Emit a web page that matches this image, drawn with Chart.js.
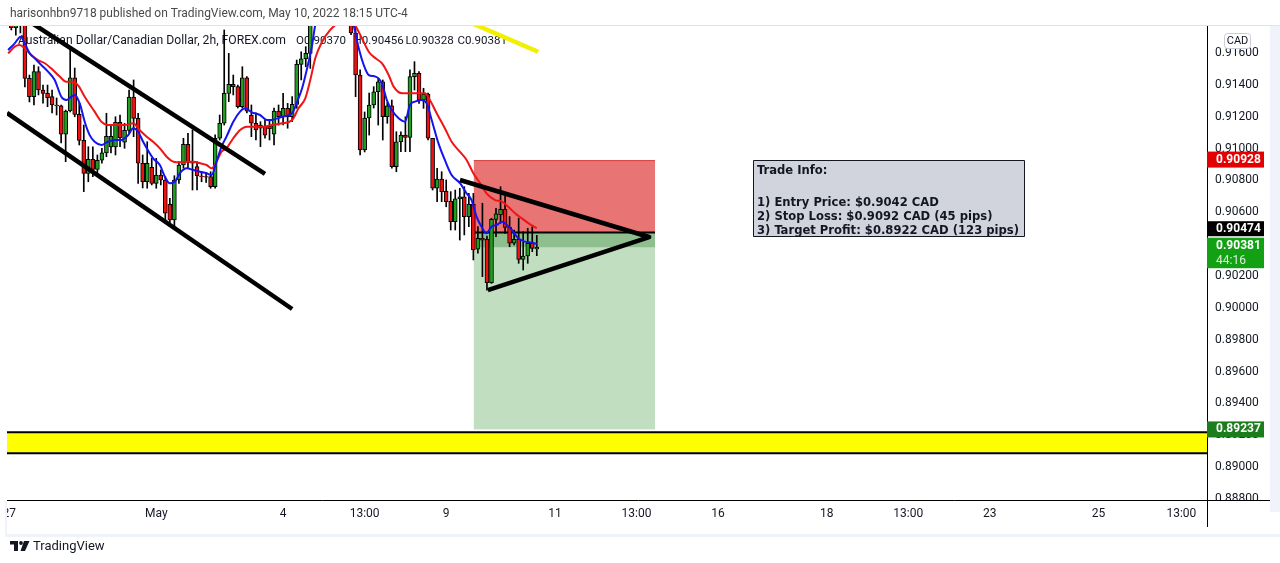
<!DOCTYPE html>
<html><head><meta charset="utf-8">
<script src="https://cdn.jsdelivr.net/npm/chart.js@4.4.1/dist/chart.umd.min.js"></script>
<style>html,body{margin:0;padding:0;background:#fff;overflow:hidden}</style>
</head><body>
<canvas id="c" width="1280" height="563"></canvas>
<script>
// ---------- DATA ----------
const openP  = [0.91780,0.91760,0.91790,0.91800,0.91441,0.91326,0.91483,0.91368,0.91347,0.91326,0.91274,0.91268,0.91090,0.91236,0.91445,0.91215,0.91052,0.90845,0.90933,0.90870,0.90927,0.90973,0.91010,0.91010,0.91165,0.91040,0.91115,0.91324,0.91190,0.90908,0.90792,0.90883,0.90782,0.90834,0.90803,0.90650,0.90552,0.90803,0.90897,0.91027,0.90918,0.90887,0.90828,0.90824,0.90824,0.90761,0.91065,0.91159,0.91347,0.91404,0.91389,0.91263,0.91445,0.91211,0.91159,0.91148,0.91142,0.91142,0.91090,0.91236,0.91200,0.91253,0.91200,0.91278,0.91529,0.91563,0.91598,0.91800,0.91900,0.91950,0.92000,0.91960,0.91900,0.91880,0.91850,0.91820,0.91726,0.91462,0.90992,0.91192,0.91274,0.91357,0.91420,0.91200,0.91268,0.90887,0.91043,0.91085,0.91071,0.91452,0.91473,0.91305,0.91343,0.91065,0.90751,0.90809,0.90734,0.90671,0.90541,0.90684,0.90698,0.90573,0.90652,0.90368,0.90437,0.90432,0.90158,0.90556,0.90583,0.90619,0.90506,0.90406,0.90431,0.90305,0.90326,0.90406,0.90370];
const highP  = [0.91830,0.91850,0.91870,0.91840,0.91462,0.91525,0.91514,0.91399,0.91399,0.91368,0.91318,0.91274,0.91242,0.91632,0.91506,0.91286,0.91148,0.91012,0.91012,0.90960,0.91002,0.91222,0.91148,0.91200,0.91211,0.91159,0.91368,0.91431,0.91222,0.90960,0.91043,0.90939,0.90939,0.90866,0.90824,0.90688,0.90830,0.90918,0.91065,0.91096,0.91117,0.90918,0.90855,0.90849,0.90855,0.91086,0.91211,0.91745,0.91598,0.91462,0.91399,0.91514,0.91452,0.91274,0.91224,0.91169,0.91180,0.91180,0.91255,0.91274,0.91347,0.91284,0.91326,0.91556,0.91608,0.91640,0.91850,0.91950,0.92000,0.92060,0.92080,0.92000,0.91960,0.91920,0.91880,0.91850,0.91780,0.91494,0.91230,0.91349,0.91389,0.91443,0.91431,0.91290,0.91305,0.91106,0.91106,0.91200,0.91494,0.91546,0.91483,0.91379,0.91349,0.91065,0.90876,0.90855,0.90803,0.90730,0.90740,0.90751,0.90761,0.90719,0.90719,0.90510,0.90657,0.90451,0.90563,0.90625,0.90761,0.90719,0.90573,0.90489,0.90563,0.90478,0.90500,0.90510,0.90456];
const lowP   = [0.91745,0.91713,0.91726,0.91387,0.91293,0.91274,0.91337,0.91286,0.91263,0.91224,0.91211,0.91035,0.90918,0.91230,0.91200,0.91023,0.90730,0.90792,0.90824,0.90834,0.90908,0.90949,0.90973,0.90960,0.91012,0.91002,0.91096,0.91075,0.90782,0.90753,0.90751,0.90772,0.90751,0.90772,0.90541,0.90520,0.90510,0.90782,0.90877,0.90877,0.90740,0.90740,0.90792,0.90788,0.90751,0.90751,0.91054,0.91148,0.91295,0.91337,0.91255,0.91255,0.91224,0.91075,0.91054,0.91012,0.91065,0.91054,0.91023,0.91148,0.91148,0.91128,0.91169,0.91253,0.91431,0.91514,0.91504,0.91790,0.91880,0.91900,0.91920,0.91880,0.91850,0.91830,0.91800,0.91715,0.91326,0.90960,0.90979,0.91085,0.91255,0.91148,0.91054,0.91159,0.90877,0.90855,0.90981,0.90981,0.90981,0.91368,0.91284,0.91253,0.91054,0.90740,0.90667,0.90667,0.90635,0.90489,0.90489,0.90426,0.90458,0.90510,0.90301,0.90343,0.90196,0.90112,0.90154,0.90447,0.90531,0.90468,0.90384,0.90395,0.90280,0.90238,0.90280,0.90353,0.90328];
const closeP = [0.91760,0.91790,0.91800,0.91441,0.91326,0.91483,0.91368,0.91347,0.91320,0.91274,0.91268,0.91090,0.91236,0.91445,0.91215,0.91052,0.90845,0.90933,0.90870,0.90927,0.90973,0.91077,0.91077,0.91165,0.91068,0.91115,0.91324,0.91190,0.90908,0.90792,0.90908,0.90782,0.90834,0.90803,0.90594,0.90552,0.90803,0.90897,0.91027,0.90914,0.90908,0.90830,0.90824,0.90820,0.90761,0.91065,0.91159,0.91347,0.91404,0.91389,0.91263,0.91445,0.91235,0.91159,0.91117,0.91129,0.91085,0.91123,0.91236,0.91200,0.91253,0.91200,0.91278,0.91529,0.91563,0.91598,0.91800,0.91900,0.91950,0.92000,0.91960,0.91900,0.91880,0.91850,0.91820,0.91726,0.91462,0.90992,0.91192,0.91274,0.91357,0.91420,0.91200,0.91268,0.90887,0.91043,0.91085,0.91071,0.91452,0.91473,0.91305,0.91343,0.91065,0.90751,0.90809,0.90730,0.90667,0.90541,0.90684,0.90698,0.90573,0.90652,0.90364,0.90437,0.90426,0.90158,0.90556,0.90590,0.90619,0.90506,0.90406,0.90431,0.90305,0.90326,0.90406,0.90374,0.90381];

const emaFastX = [-0.7,0.75,2.07,2.96,4.06,5.17,6.62,8.10,9.58,11.04,12.14,13.25,14.0,15.1,16.2,17.3,18.4,19.9,21.3,22.8,24.3,25.8,26.9,28.0,29.1,31.3,32.8,33.9,35.0,36.1,37.2,38.7,40.2,41.7,43.1,44.2,45.3,46.4,47.5,49.0,50.5,51.6,53.1,54.9,56.4,57.5,59.8,62.0,63.1,64.2,65.3,66.4,67.1,69,71,73,75,75.6,76.7,77.8,78.9,80.4,81.8,82.9,84.0,85.5,86.9,88.0,89.1,90.6,91.7,92.8,94.3,95.7,97.2,99.1,100.5,101.6,102.7,103.8,104.9,106.0,107.2,108.3,109.4,110.5,111.9,113.4,114.9,116.0];
const emaFastY = [0.91619,0.91661,0.91703,0.91661,0.91598,0.91567,0.91525,0.91483,0.91431,0.91326,0.91305,0.91326,0.91337,0.91284,0.91169,0.91085,0.91043,0.91023,0.91043,0.91054,0.91054,0.91085,0.91128,0.91106,0.91043,0.90939,0.90897,0.90824,0.90782,0.90792,0.90845,0.90876,0.90866,0.90855,0.90845,0.90834,0.90918,0.91012,0.91075,0.91169,0.91232,0.91253,0.91228,0.91211,0.91180,0.91180,0.91200,0.91222,0.91295,0.91379,0.91504,0.91650,0.91776,0.9190,0.9196,0.9194,0.9186,0.91776,0.91630,0.91525,0.91462,0.91452,0.91410,0.91305,0.91242,0.91190,0.91169,0.91274,0.91295,0.91305,0.91284,0.91180,0.91033,0.90929,0.90834,0.90782,0.90719,0.90677,0.90573,0.90510,0.90468,0.90510,0.90521,0.90541,0.90521,0.90489,0.90437,0.90416,0.90409,0.90401];
const emaSlowX = [-0.7,0.75,1.85,2.96,4.4,5.9,7.4,8.8,10.7,12.1,13.2,14.7,16.2,18.4,19.9,21.3,23.2,25.0,26.9,28.3,29.9,31.3,32.8,34.3,35.8,37.2,38.7,40.2,41.7,43.1,44.2,45.3,46.4,47.5,49.0,50.5,52.0,53.8,55.6,57.5,59.8,62.0,63.4,64.9,66.0,67.1,68.6,70.4,71.5,73,75,75.9,77.4,78.9,80.4,81.8,83.3,84.4,86.3,88.4,89.8,91.3,92.4,93.9,95.7,97.2,99.0,100.5,102.0,103.5,104.9,106.8,108.3,109.7,111.2,112.7,114.2,116.0];
const emaSlowY = [0.91598,0.91640,0.91650,0.91630,0.91588,0.91556,0.91536,0.91504,0.91452,0.91420,0.91420,0.91399,0.91326,0.91232,0.91169,0.91148,0.91148,0.91148,0.91159,0.91117,0.91075,0.91043,0.91002,0.90949,0.90918,0.90914,0.90918,0.90918,0.90908,0.90897,0.90876,0.90918,0.90981,0.91002,0.91065,0.91117,0.91138,0.91138,0.91138,0.91148,0.91159,0.91180,0.91253,0.91316,0.91431,0.91567,0.91671,0.91745,0.91776,0.9182,0.9182,0.91776,0.91693,0.91608,0.91567,0.91536,0.91462,0.91389,0.91347,0.91347,0.91347,0.91347,0.91305,0.91222,0.91128,0.91043,0.90981,0.90929,0.90845,0.90782,0.90719,0.90677,0.90667,0.90635,0.90594,0.90562,0.90531,0.90500];

const xTickPos    = [-0.45,32,60,78,96,120,138,156,180,198,216,240,258.3];
const xTickLabels = ['27','May','4','13:00','9','11','13:00','16','18','13:00','23','25','13:00'];
const yTicks      = [0.888,0.890,0.892,0.894,0.896,0.898,0.900,0.902,0.904,0.906,0.908,0.910,0.912,0.914,0.916];

const stopPrice = 0.90928, entryPrice = 0.90474, targetPrice = 0.89237, lastPrice = 0.90381;
const countdown = '44:16';
const positionSpan = [102.1, 142.1];
const channelUpper = [[4,0.91798],[56,0.90841]];
const channelLower = [[-0.95,0.91224],[62,0.89993]];
const trianglePts  = [[99.05,0.90803],[140.8,0.90445],[105.2,0.90112]];
const yellowLine   = [[101.3,0.91792],[116.3,0.91608]];
const yellowBand   = [0.89220, 0.89088];
const infoBox      = [[163.7,0.90929],[223.6,0.90451]];
const infoLines    = ['Trade Info:','','1) Entry Price: $0.9042 CAD','2) Stop Loss: $0.9092 CAD (45 pips)','3) Target Profit: $0.8922 CAD (123 pips)'];
const headerText = 'harisonhbn9718 published on TradingView.com, May 10, 2022 18:15 UTC-4';
const legendTitle = 'Australian Dollar/Canadian Dollar, 2h, FOREX.com';
const legendOHLC = ['O0.90370','H0.90456','L0.90328','C0.90381'];

// ---------- VIEW ----------
const xMin = -0.95, xMax = 263.95, yMin = 0.88794, yMax = 0.917698;
const UP = '#1f9e1f', DOWN = '#ee1111';

function fitSize(ctx, text, family, weight, width){
  ctx.font = weight + ' 20px ' + family;
  return 20 * width / ctx.measureText(text).width;
}
function seg(ctx, c, pts, color, w){
  ctx.beginPath();
  pts.forEach((p,k)=>{const X=c.scales.x.getPixelForValue(p[0]), Y=c.scales.y.getPixelForValue(p[1]); k?ctx.lineTo(X,Y):ctx.moveTo(X,Y);});
  ctx.strokeStyle=color; ctx.lineWidth=w; ctx.lineCap='butt'; ctx.lineJoin='round'; ctx.stroke();
}
function clipArea(ctx,a){ctx.beginPath();ctx.rect(a.left,a.top,a.right-a.left,a.bottom-a.top);ctx.clip();}

const plug = {
  id:'tv',
  beforeDraw(c){
    const ctx=c.ctx; ctx.save(); ctx.fillStyle='#fff'; ctx.fillRect(0,0,c.width,c.height); ctx.restore();
  },
  beforeDatasetsDraw(c){
    const ctx=c.ctx, a=c.chartArea, xs=c.scales.x, ys=c.scales.y;
    ctx.save();
    ctx.fillStyle='#131722'; ctx.textBaseline='middle'; ctx.textAlign='left';
    let fs = fitSize(ctx, legendTitle, 'Roboto', '400', 268);
    ctx.font = '400 '+fs.toFixed(2)+'px Roboto';
    ctx.fillText(legendTitle, 18, 41);
    const fo = fitSize(ctx, legendOHLC[0], 'Roboto', '400', 50);
    ctx.font = '400 '+fo.toFixed(2)+'px Roboto';
    const ox=[296,353.5,405.5,457.5];
    legendOHLC.forEach((t,k)=>ctx.fillText(t, ox[k], 41));
    clipArea(ctx,a);
    const b1=ys.getPixelForValue(yellowBand[0]), b2=ys.getPixelForValue(yellowBand[1]);
    ctx.fillStyle='#ffff00'; ctx.fillRect(a.left,b1,a.right-a.left,b2-b1);
    ctx.strokeStyle='#000'; ctx.lineWidth=2;
    ctx.beginPath(); ctx.moveTo(a.left,b1); ctx.lineTo(a.right,b1); ctx.moveTo(a.left,b2); ctx.lineTo(a.right,b2); ctx.stroke();
    const x1=xs.getPixelForValue(positionSpan[0]), x2=xs.getPixelForValue(positionSpan[1]);
    const yS=ys.getPixelForValue(stopPrice), yE=ys.getPixelForValue(entryPrice), yT=ys.getPixelForValue(targetPrice), yL=ys.getPixelForValue(lastPrice);
    ctx.fillStyle='rgb(232,116,116)'; ctx.fillRect(x1,yS,x2-x1,yE-yS);
    ctx.fillStyle='rgb(193,222,193)'; ctx.fillRect(x1,yE,x2-x1,yT-yE);
    ctx.fillStyle='rgb(143,191,143)'; ctx.fillRect(x1,yE,x2-x1,yL-yE);
    ctx.strokeStyle='rgb(214,70,70)'; ctx.lineWidth=1;
    ctx.beginPath(); ctx.moveTo(x1,yS+0.5); ctx.lineTo(x2,yS+0.5); ctx.stroke();
    ctx.strokeStyle='#000'; ctx.lineWidth=2;
    ctx.beginPath(); ctx.moveTo(x1,yE); ctx.lineTo(x2,yE); ctx.stroke();
    ctx.restore();
  },
  afterDatasetsDraw(c){
    const ctx=c.ctx, a=c.chartArea, xs=c.scales.x, ys=c.scales.y;
    ctx.save(); clipArea(ctx,a);
    seg(ctx,c,channelUpper,'#000',4.5);
    seg(ctx,c,channelLower,'#000',4.5);
    seg(ctx,c,trianglePts,'#000',4.5);
    seg(ctx,c,yellowLine,'#f0f000',4.5);
    const bx1=Math.round(xs.getPixelForValue(infoBox[0][0]))+0.5, by1=Math.round(ys.getPixelForValue(infoBox[0][1]))+0.5;
    const bx2=Math.round(xs.getPixelForValue(infoBox[1][0]))+0.5, by2=Math.round(ys.getPixelForValue(infoBox[1][1]))+0.5;
    ctx.fillStyle='#d1d4dc'; ctx.fillRect(bx1,by1,bx2-bx1,by2-by1);
    ctx.strokeStyle='#131722'; ctx.lineWidth=1; ctx.strokeRect(bx1,by1,bx2-bx1,by2-by1);
    const fam='"DejaVu Sans Condensed"';
    const fs=fitSize(ctx, infoLines[4], fam, 'bold', bx2-bx1-9);
    ctx.font='bold '+fs.toFixed(2)+'px '+fam; ctx.fillStyle='#131722'; ctx.textBaseline='middle'; ctx.textAlign='left';
    const lh=(by2-by1-10)/(infoLines.length-0.3);
    infoLines.forEach((t,k)=>{ if(t) ctx.fillText(t, bx1+3.5, by1+10+k*lh + (k? lh*0.3:0)); });
    ctx.restore();
  },
  afterDraw(c){
    const ctx=c.ctx, a=c.chartArea, ys=c.scales.y;
    ctx.save();
    ctx.fillStyle='#fff';
    ctx.fillRect(0,a.bottom+1,a.left,26);
    ctx.fillRect(a.right+1,a.bottom+0.5,70,26);
    ctx.fillStyle='#4a4a4a'; ctx.textBaseline='middle'; ctx.textAlign='left';
    let fs=fitSize(ctx, headerText, 'Roboto', '400', 398);
    ctx.font='400 '+fs.toFixed(2)+'px Roboto'; ctx.fillText(headerText, 10, 14);
    ctx.strokeStyle='#e0e3eb'; ctx.lineWidth=1;
    ctx.beginPath(); ctx.moveTo(0,a.top-0.5); ctx.lineTo(c.width,a.top-0.5); ctx.stroke();
    ctx.fillStyle='#f0f3fa';
    ctx.fillRect(1270, a.top, 10, 512-a.top);
    ctx.fillRect(a.left, 534, 1280-a.left, 3);
    ctx.fillRect(a.left-2, a.bottom+1, 2, 36);
    ctx.strokeStyle='#000'; ctx.lineWidth=1;
    ctx.beginPath(); ctx.moveTo(a.left, a.bottom+0.5); ctx.lineTo(1270, a.bottom+0.5);
    ctx.moveTo(a.right+0.5, a.top); ctx.lineTo(a.right+0.5, a.bottom+27); ctx.stroke();
    const L = 1207, W = 57;
    function box(y, h, color){ ctx.fillStyle=color; ctx.fillRect(L, y, W, h); }
    ctx.font='bold 12px Roboto'; ctx.textBaseline='middle';
    const yS=ys.getPixelForValue(stopPrice), yT=ys.getPixelForValue(targetPrice), yL=ys.getPixelForValue(lastPrice);
    box(yS-8.5,16,'#e30000'); ctx.fillStyle='#fff'; ctx.fillText(stopPrice.toFixed(5), 1216, yS);
    const gTop=yL-9.5, bBot=gTop-1.5;
    box(bBot-15,15,'#000'); ctx.fillStyle='#fff'; ctx.fillText(entryPrice.toFixed(5), 1216, bBot-7.5);
    box(gTop,30.5,'#14a014'); ctx.fillStyle='#fff'; ctx.fillText(lastPrice.toFixed(5), 1216, gTop+8.5);
    ctx.font='400 12px Roboto'; ctx.fillStyle='#d8f0d8'; ctx.fillText(countdown, 1216, gTop+23);
    ctx.font='bold 12px Roboto';
    box(yT-8,16,'#1b7d1b'); ctx.fillStyle='#fff'; ctx.fillText(targetPrice.toFixed(5), 1216, yT);
    ctx.fillStyle='#fff'; ctx.strokeStyle='#c9ccd4'; ctx.lineWidth=1;
    ctx.beginPath(); ctx.roundRect(1224.5,33.5,26,15,3); ctx.fill(); ctx.stroke();
    ctx.fillStyle='#131722'; ctx.font='400 11px Roboto'; ctx.textAlign='center'; ctx.fillText('CAD',1237.5,41.5);
    ctx.textAlign='left'; ctx.fillStyle='#131722';
    ctx.fillRect(10,541,8,3.5); ctx.fillRect(14,541,4,10);
    ctx.beginPath(); ctx.arc(21,543,1.9,0,Math.PI*2); ctx.fill();
    ctx.beginPath(); ctx.moveTo(24,541); ctx.lineTo(29.5,541); ctx.lineTo(25,551); ctx.lineTo(20.5,551); ctx.closePath(); ctx.fill();
    ctx.font='400 13px Roboto'; ctx.fillText('TradingView', 33, 546.5);
    ctx.restore();
  }
};

const idx = openP.map((_,i)=>i);
new Chart(document.getElementById('c'), {
  type:'bar',
  data:{datasets:[
    {type:'line', label:'EMA fast', data: emaFastX.map((x,i)=>({x, y:emaFastY[i]})), borderColor:'#1414f0', borderWidth:2, pointRadius:0, cubicInterpolationMode:'monotone', order:1},
    {type:'line', label:'EMA slow', data: emaSlowX.map((x,i)=>({x, y:emaSlowY[i]})), borderColor:'#f01414', borderWidth:2, pointRadius:0, cubicInterpolationMode:'monotone', order:2},
    {type:'bar', label:'body', data: idx.map(i=>({x:i, y:[openP[i], closeP[i]]})), backgroundColor: idx.map(i=> closeP[i]>=openP[i]?UP:DOWN), borderColor:'#000', borderWidth:1, borderSkipped:false, barThickness:4, grouped:false, order:3},
    {type:'bar', label:'wick', data: idx.map(i=>({x:i, y:[lowP[i], highP[i]]})), backgroundColor:'#000', borderWidth:0, barThickness:1, grouped:false, order:4}
  ]},
  options:{
    responsive:false, animation:false, devicePixelRatio:1,
    layout:{padding:{left:7, top:26, right:0, bottom:0}},
    plugins:{legend:{display:false}, tooltip:{enabled:false}},
    scales:{
      x:{type:'linear', min:xMin, max:xMax, offset:false, grid:{display:false, drawTicks:false}, border:{display:false},
         ticks:{autoSkip:false, maxRotation:0, padding:7, color:'#131722', font:{family:'Roboto', size:12}, callback:(v,i)=>xTickLabels[i]},
         afterBuildTicks:s=>{s.ticks = xTickPos.map(v=>({value:v}));},
         afterFit:s=>{s.height=63; s.paddingLeft=0; s.paddingRight=0;}},
      y:{type:'linear', position:'right', min:yMin, max:yMax, grid:{display:false, drawTicks:false}, border:{display:false},
         ticks:{autoSkip:false, padding:8, color:'#131722', font:{family:'Roboto', size:12}, callback:v=>Number(v).toFixed(5)},
         afterBuildTicks:s=>{s.ticks = yTicks.map(v=>({value:v}));},
         afterFit:s=>{s.width=73; s.paddingTop=0; s.paddingBottom=0;}}
    }
  },
  plugins:[plug]
});
</script>
</body></html>
